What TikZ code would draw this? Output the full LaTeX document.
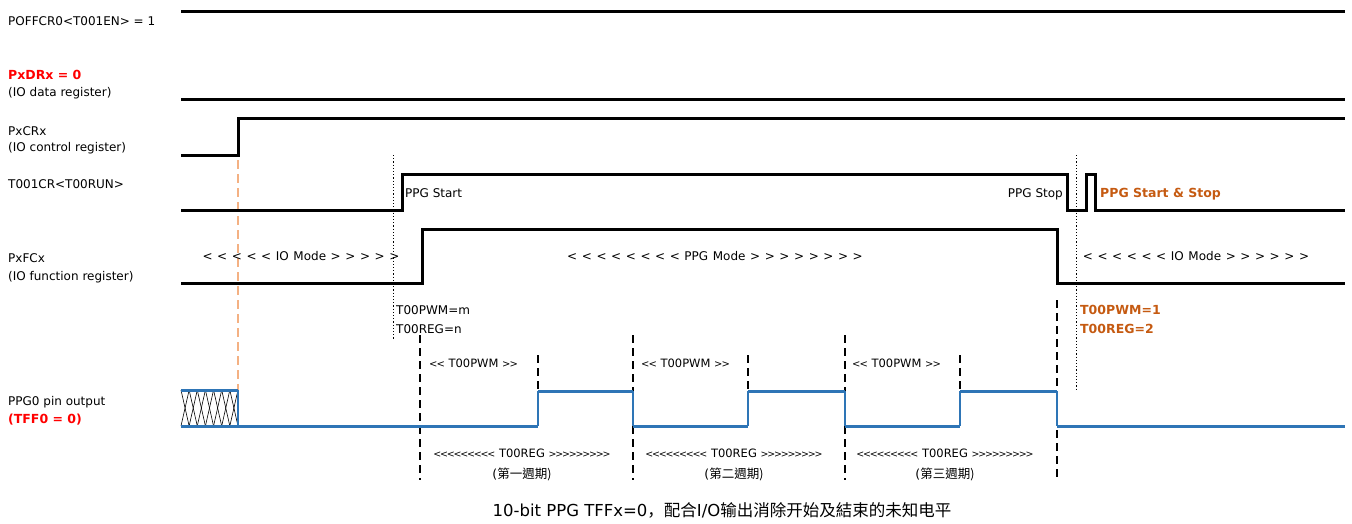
\documentclass[tikz,border=0pt]{standalone}
\usepackage{fontspec}
\setmainfont{DejaVu Sans}
\newfontfamily\cjktc{Noto Sans CJK TC}
\newfontfamily\cjksc{Noto Sans CJK SC}
\definecolor{wblue}{RGB}{46,117,182}
\definecolor{worange}{RGB}{197,90,17}
\definecolor{wsalmon}{RGB}{244,177,131}
\definecolor{wred}{RGB}{255,0,0}
\newcommand\Lt{<\kern0pt}
\newcommand\Gt{>\kern0pt}
\newcommand\tLt{<\kern-1.2pt}
\newcommand\tGt{>\kern-1.2pt}
\newcommand\pLt{<\kern-1pt}
\newcommand\pGt{>\kern-1pt}
\newcommand\Wsp{\hspace{4.6pt}}
\begin{document}
\begin{tikzpicture}[x=1pt,y=-1pt,
  sig/.style={line width=3pt,line join=miter},
  bsig/.style={wblue,line width=3pt},
  bedge/.style={wblue,line width=1.5pt},
  lbl/.style={anchor=base west,inner sep=0pt,font=\fontsize{12}{14}\selectfont},
  lblr/.style={anchor=base east,inner sep=0pt,font=\fontsize{12}{14}\selectfont},
  lblc/.style={anchor=base,inner sep=0pt,font=\fontsize{12}{14}\selectfont},
  small/.style={anchor=base west,inner sep=0pt,font=\fontsize{11.5}{13}\selectfont},
  smallc/.style={anchor=base,inner sep=0pt,font=\fontsize{11.5}{13}\selectfont},
  cjkc/.style={anchor=base,inner sep=0pt,font=\fontsize{12.5}{14}\selectfont},
  hot/.style={font=\fontsize{12.5}{14}\selectfont\bfseries},
  bdash/.style={line width=2pt,dash pattern=on 8pt off 5pt},
  odash/.style={wsalmon,line width=2pt,dash pattern=on 9pt off 5pt},
  dotv/.style={line width=1pt,dash pattern=on 1.2pt off 2pt},
  hatch/.style={line width=0.6pt}]
\useasboundingbox (0,0) rectangle (1352,523);

% ---- labels ----
\node[lbl] (l1) at (8,25) {POFFCR0\Lt T001EN\Gt\ = 1};
\node[lbl,hot,text=wred] (l2) at (8,79) {PxDRx = 0};
\node[lbl] (l2b) at (8,96) {(IO data register)};
\node[lbl] (l3) at (8,135) {PxCRx};
\node[lbl] (l3b) at (8,151) {(IO control register)};
\node[lbl] (l4) at (8,188) {T001CR\Lt T00RUN\Gt};
\node[lbl] (l5) at (8,262) {PxFCx};
\node[lbl] (l5b) at (8,280) {(IO function register)};
\node[lbl] (l6) at (8,405) {PPG0 pin output};
\node[lbl,hot,text=wred] (l6b) at (8,423) {(TFF0 = 0)};

% ---- guide lines ----
\draw[odash] (238,160) -- (238,390);
\draw[dotv] (393,155) -- (393,340);
\draw[dotv] (1076,155) -- (1076,390);

% ---- black signals ----
\draw[sig] (181,11) -- (1345,11);
\draw[sig] (181,99) -- (1345,99);
\draw[sig] (181,155) -- (238,155) -- (238,118) -- (1345,118);
\draw[sig] (181,210) -- (402,210) -- (402,174) -- (1067,174) -- (1067,210)
  -- (1086,210) -- (1086,174) -- (1095,174) -- (1095,210) -- (1345,210);
\draw[sig] (181,283) -- (422,283) -- (422,229) -- (1057,229) -- (1057,283) -- (1345,283);

% ---- texts on signals ----
\node[lbl] (ps) at (405,197) {PPG Start};
\node[lblr] (pst) at (1063,197) {PPG Stop};
\node[lbl,hot,text=worange] (pss) at (1100,197) {PPG Start \& Stop};
\node[lblc] (io1) at (301,260) {\Lt\Wsp\Lt\Wsp\Lt\Wsp\Lt\Wsp\Lt\Wsp IO\Wsp Mode\Wsp\Gt\Wsp\Gt\Wsp\Gt\Wsp\Gt\Wsp\Gt};
\node[lblc] (ppgm) at (715,260) {\Lt\Wsp\Lt\Wsp\Lt\Wsp\Lt\Wsp\Lt\Wsp\Lt\Wsp\Lt\Wsp\Lt\Wsp PPG\Wsp Mode\Wsp\Gt\Wsp\Gt\Wsp\Gt\Wsp\Gt\Wsp\Gt\Wsp\Gt\Wsp\Gt\Wsp\Gt};
\node[lblc] (io2) at (1196,260) {\Lt\Wsp\Lt\Wsp\Lt\Wsp\Lt\Wsp\Lt\Wsp\Lt\Wsp IO\Wsp Mode\Wsp\Gt\Wsp\Gt\Wsp\Gt\Wsp\Gt\Wsp\Gt\Wsp\Gt};
\node[lbl] (pm) at (396,314) {T00PWM=m};
\node[lbl] (rn) at (396,333) {T00REG=n};
\node[lbl,hot,text=worange] (p1) at (1080,314) {T00PWM=1};
\node[lbl,hot,text=worange] (r2) at (1080,333) {T00REG=2};

% ---- period markers ----
\draw[bdash] (420,335) -- (420,480);
\draw[bdash] (633,335) -- (633,480);
\draw[bdash] (845,335) -- (845,480);
\draw[bdash] (1057,300) -- (1057,480);
\draw[bdash] (538,355) -- (538,390);
\draw[bdash] (748,355) -- (748,390);
\draw[bdash] (960,355) -- (960,390);

% ---- hatched unknown region ----
\foreach \k in {0,...,6}{
  \pgfmathsetmacro{\xa}{181+\k*8.14}
  \pgfmathsetmacro{\xb}{181+(\k+1)*8.14}
  \draw[hatch] (\xa,390) -- (\xb,426);
  \draw[hatch] (\xa,426) -- (\xb,390);
}
\draw[bedge] (238,390) -- (238,426);
\draw[bsig] (181,390) -- (238,390);
\draw[bsig] (181,426) -- (238,426);

% ---- blue PPG output ----
\draw[bsig] (238,426) -- (538,426);
\draw[bedge] (538,426) -- (538,391);
\draw[bsig] (538,391) -- (633,391);
\draw[bedge] (633,391) -- (633,426);
\draw[bsig] (633,426) -- (748,426);
\draw[bedge] (748,426) -- (748,391);
\draw[bsig] (748,391) -- (845,391);
\draw[bedge] (845,391) -- (845,426);
\draw[bsig] (845,426) -- (960,426);
\draw[bedge] (960,426) -- (960,391);
\draw[bsig] (960,391) -- (1057,391);
\draw[bedge] (1057,391) -- (1057,426);
\draw[bsig] (1057,426) -- (1345,426);

% ---- period texts ----
\newcommand\regtxt{{\fontsize{9.5}{12}\selectfont\tLt\tLt\tLt\tLt\tLt\tLt\tLt\tLt<}\ T00REG\ {\fontsize{9.5}{12}\selectfont\tGt\tGt\tGt\tGt\tGt\tGt\tGt\tGt>}}
\newcommand\pwmtxt{{\fontsize{10}{12}\selectfont\pLt<}\ T00PWM\ {\fontsize{10}{12}\selectfont\pGt>}}
\node[small] (w1) at (429,367) {\pwmtxt};
\node[small] (w2) at (641,367) {\pwmtxt};
\node[small] (w3) at (852,367) {\pwmtxt};
\node[smallc] (g1) at (522,457) {\regtxt};
\node[smallc] (g2) at (734,457) {\regtxt};
\node[smallc] (g3) at (945,457) {\regtxt};
\node[cjkc] (c1) at (522,478) {(\cjktc 第一週期)};
\node[cjkc] (c2) at (734,478) {(\cjktc 第二週期)};
\node[cjkc] (c3) at (945,478) {(\cjktc 第三週期)};

% ---- caption ----
\node[anchor=base,inner sep=0pt,font=\fontsize{16.5}{18}\selectfont] (cap) at (722,516)
  {10-bit PPG TFFx=0{\cjksc ，配合}I/O{\cjksc 输出消除开始及結束的未知电平}};
\end{tikzpicture}
\end{document}
